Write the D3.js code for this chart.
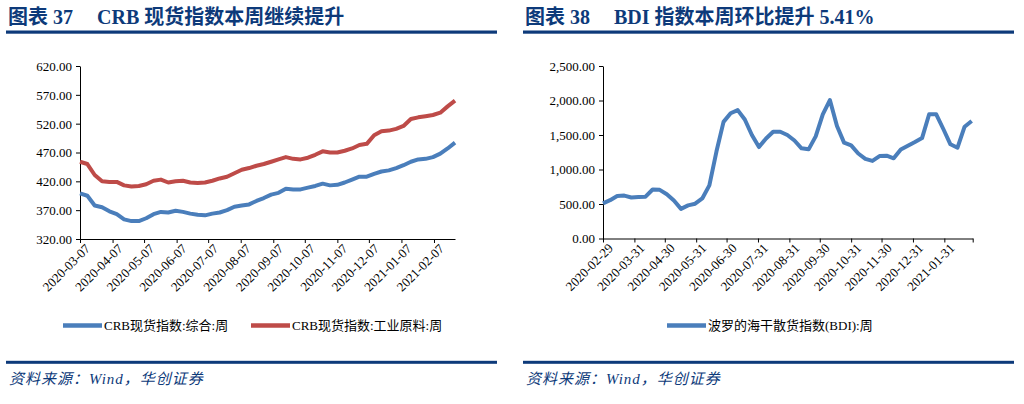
<!DOCTYPE html>
<html>
<head>
<meta charset="utf-8">
<script src="https://cdn.jsdelivr.net/npm/d3@7/dist/d3.min.js"></script>
<style>
  body { margin: 0; background: #fff; }
  svg text { font-family: "Liberation Serif", "Times New Roman", "Noto Sans CJK SC", serif; }
</style>
</head>
<body>
<svg id="main" width="1024" height="404"></svg>
<script>
// CRB weekly index, from 2020-03-07
const crbStart = "2020-03-07";
const crbComposite = [399,395,378,375,368,363,354,351,351,356,363,367,366,369,367,364,362,361,364,366,
  370,376,378,380,386,391,397,400,407,406,406,409,412,416,413,414,418,423,428,428,
  433,437,439,443,448,454,458,459,462,468,477,487];
const crbIndustrial = [454,450,431,420,419,419,413,411,412,415,421,423,418,420,421,418,417,418,421,425,
  428,434,440,443,447,450,454,458,462,459,458,461,466,472,470,470,473,477,483,485,
  500,507,508,511,516,528,531,533,535,539,550,560];
const crbTicks = ["2020-03-07","2020-04-07","2020-05-07","2020-06-07","2020-07-07","2020-08-07",
  "2020-09-07","2020-10-07","2020-11-07","2020-12-07","2021-01-07","2021-02-07"];

// BDI weekly, from 2020-02-29
const bdiStart = "2020-02-29";
const bdi = [510,555,615,622,595,603,606,710,705,642,550,430,480,504,580,770,1260,1690,1815,1860,
  1725,1500,1325,1450,1548,1548,1500,1420,1307,1292,1480,1800,2007,1630,1390,1350,1232,1155,1125,1195,
  1200,1162,1290,1345,1398,1455,1800,1800,1587,1365,1316,1620,1703];
const bdiTicks = ["2020-02-29","2020-03-31","2020-04-30","2020-05-31","2020-06-30","2020-07-31",
  "2020-08-31","2020-09-30","2020-10-31","2020-11-30","2020-12-31","2021-01-31"];
const bdiEnd = "2021-02-28";

const navy = "#0d3a7a";
const blue = "#4a7ebb";
const red = "#be4b48";

const parse = d3.utcParse("%Y-%m-%d");
const svg = d3.select("#main");

// weekly dates
function weekly(start, n) {
    const s = parse(start);
    return d3.range(n).map(i => d3.utcDay.offset(s, 7 * i));
}

function header(x0, x1, num, title, titleX) {
    svg.append("text").attr("x", x0 + 2).attr("y", 24)
        .attr("fill", navy).attr("font-size", 20).attr("font-weight", "bold")
        .text("图表 " + num);
    svg.append("text").attr("x", titleX).attr("y", 24)
        .attr("fill", navy).attr("font-size", 20).attr("font-weight", "bold")
        .text(title);
    svg.append("rect").attr("x", x0).attr("y", 30.5).attr("width", x1 - x0).attr("height", 3.2)
        .attr("fill", navy);
    svg.append("rect").attr("x", x0).attr("y", 360.8).attr("width", x1 - x0).attr("height", 3)
        .attr("fill", navy);
    svg.append("text").attr("x", x0 + 3).attr("y", 384)
        .attr("fill", navy).attr("font-size", 15).attr("font-style", "italic")
        .attr("letter-spacing", 1)
        .text("资料来源：Wind，华创证券");
}

function drawAxes(x, y, yTicks, xTicks, xFmt, extraTick) {
    const [x0, x1] = x.range();
    const [y1, y0] = y.range();
    const ya = svg.append("g").attr("transform", `translate(${x0},0)`)
        .call(d3.axisLeft(y).tickValues(yTicks).tickFormat(d3.format(",.2f")).tickSize(4).tickSizeOuter(0));
    ya.selectAll("text").attr("font-size", 13).attr("fill", "#000").attr("x", -8).attr("dy", "0.34em");

    const vals = extraTick ? xTicks.concat([extraTick]) : xTicks;
    const xa = svg.append("g").attr("transform", `translate(0,${y1})`)
        .call(d3.axisBottom(x).tickValues(vals).tickSize(4).tickSizeOuter(0)
            .tickFormat(d => extraTick && +d === +extraTick ? "" : xFmt(d)));
    xa.selectAll("text").attr("font-size", 13).attr("fill", "#000")
        .attr("text-anchor", "end")
        .attr("transform", "translate(4,4) rotate(-45)")
        .attr("dy", "0.7em").attr("y", 0).attr("x", 0);
    svg.selectAll(".domain").attr("stroke", "#000");
    svg.selectAll(".tick line").attr("stroke", "#000");
}

function legendItem(x, y, color, label) {
    svg.append("line").attr("x1", x).attr("x2", x + 39).attr("y1", y).attr("y2", y)
        .attr("stroke", color).attr("stroke-width", 4.5);
    svg.append("text").attr("x", x + 41).attr("y", y + 4.5)
        .attr("font-size", 13).attr("fill", "#000").text(label);
}

const fmt = d3.utcFormat("%Y-%m-%d");

// ---- left: CRB
header(6, 497, "37", "CRB 现货指数本周继续提升", 97);
const crbDates = weekly(crbStart, crbComposite.length);
const xL = d3.scaleUtc().domain([crbDates[0], crbDates[crbDates.length - 1]]).range([80, 455]);
const yL = d3.scaleLinear().domain([320, 620]).range([239, 66]);
drawAxes(xL, yL, d3.range(320, 621, 50), crbTicks.map(parse), fmt, null);

const lineL = (vals) => d3.line().x((d, i) => xL(crbDates[i])).y(d => yL(d))(vals);
svg.append("path").attr("d", lineL(crbComposite)).attr("fill", "none")
    .attr("stroke", blue).attr("stroke-width", 4).attr("stroke-linejoin", "round");
svg.append("path").attr("d", lineL(crbIndustrial)).attr("fill", "none")
    .attr("stroke", red).attr("stroke-width", 4).attr("stroke-linejoin", "round");

legendItem(63, 325.5, blue, "CRB现货指数:综合:周");
legendItem(251, 325.5, red, "CRB现货指数:工业原料:周");

// ---- right: BDI
header(523, 1014, "38", "BDI 指数本周环比提升 5.41%", 614);
const bdiDates = weekly(bdiStart, bdi.length);
const xR = d3.scaleUtc().domain([parse(bdiStart), parse(bdiEnd)]).range([603, 972.7]);
const yR = d3.scaleLinear().domain([0, 2500]).range([238.5, 66]);
drawAxes(xR, yR, d3.range(0, 2501, 500), bdiTicks.map(parse), fmt, parse(bdiEnd));

svg.append("path")
    .attr("d", d3.line().x((d, i) => xR(bdiDates[i])).y(d => yR(d))(bdi))
    .attr("fill", "none").attr("stroke", blue).attr("stroke-width", 4).attr("stroke-linejoin", "round");

legendItem(667, 325.5, blue, "波罗的海干散货指数(BDI):周");
</script>
</body>
</html>
